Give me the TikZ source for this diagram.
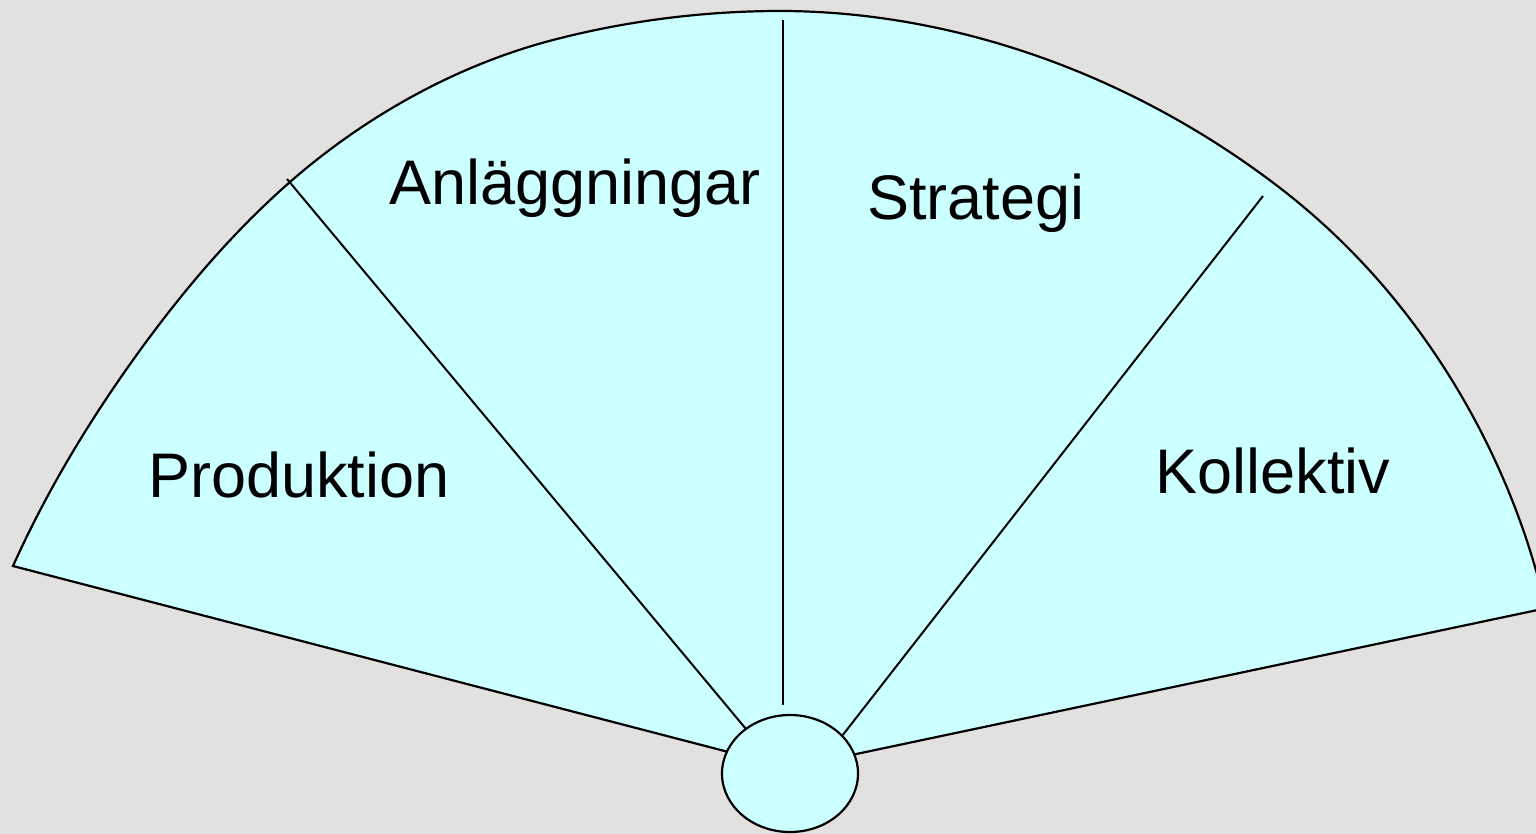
\documentclass[tikz,border=0pt]{standalone}
\usepackage{fontspec}
\setmainfont{Liberation Sans}
\usetikzlibrary{shapes.geometric}
\definecolor{bgcol}{RGB}{227,225,224}
\definecolor{fancol}{RGB}{204,255,255}
\begin{document}
\begin{tikzpicture}[x=0.5pt,y=-0.5pt,
  fanshape/.style={fill=fancol,draw=black,line width=1.1pt,line join=miter},
  divider/.style={draw=black,line width=1pt},
  fantext/.style={font=\fontsize{31.5}{38}\selectfont,anchor=base,inner sep=0pt},
  hubstyle/.style={ellipse,fill=fancol,draw=black,line width=1.1pt,minimum width=68pt,minimum height=58.5pt,inner sep=0pt}]
\useasboundingbox (0,0) rectangle (1536,834);
\clip (0,0) rectangle (1536,834);
\fill[bgcol] (0,0) rectangle (1536,834);
% fan
\coordinate (apex) at (790,768);
\filldraw[fanshape] (apex) -- (13,566)
  .. controls (45.6,493.5) and (86.8,424.7) .. (133,360)
  .. controls (179,295.6) and (230.5,234.1) .. (290,182)
  .. controls (365,116.4) and (456.6,65.1) .. (553,40)
  .. controls (626.6,20.8) and (704,11) .. (780,11)
  .. controls (868,11) and (957,27.6) .. (1040,57)
  .. controls (1125.9,87.4) and (1207.8,132.4) .. (1280,188)
  .. controls (1322.4,220.6) and (1361.2,258.5) .. (1395,300)
  .. controls (1458.5,377.9) and (1507,470.5) .. (1535,567)
  -- (1547,608) -- cycle;
% dividers
\coordinate (l0) at (287,179);
\coordinate (l1) at (746,729);
\coordinate (m0) at (783,20);
\coordinate (m1) at (783,705);
\coordinate (r0) at (1263,196);
\coordinate (r1) at (842,736);
\draw[divider] (l0) -- (l1);
\draw[divider] (m0) -- (m1);
\draw[divider] (r0) -- (r1);
% hub
\node[hubstyle] (hub) at (790,773.5) {};
% labels
\node[fantext] (anl) at (575,205) {Anläggningar};
\node[fantext] (str) at (976,220) {Strategi};
\node[fantext] (pro) at (299,497) {Produktion};
\node[fantext] (kol) at (1273,493) {Kollektiv};
\end{tikzpicture}
\end{document}
